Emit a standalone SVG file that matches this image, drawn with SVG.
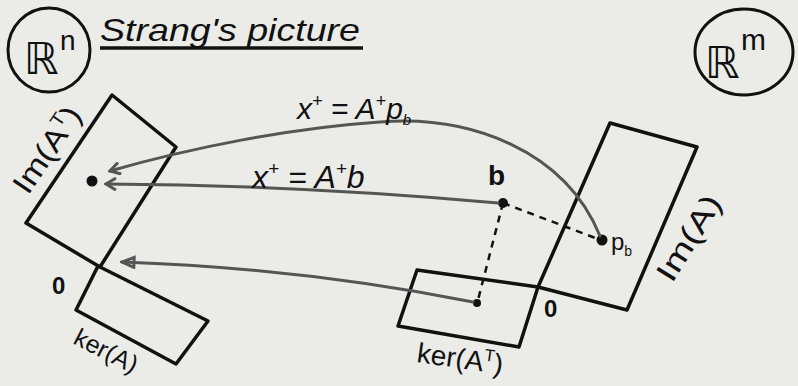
<svg xmlns="http://www.w3.org/2000/svg" width="798" height="386" viewBox="0 0 798 386">
<defs>
<style>
.bg{fill:#ebebe8}
.box{fill:none;stroke:#111;stroke-width:3.5;stroke-linejoin:round}
.ring{fill:none;stroke:#111;stroke-width:3}
.t{font-family:"Liberation Sans","DejaVu Sans",sans-serif;fill:#111}
.arr{fill:none;stroke:#555;stroke-width:3;stroke-linecap:round}
.dash{fill:none;stroke:#111;stroke-width:2.5;stroke-dasharray:7 6}
.dot{fill:#111}
</style>
<marker id="chev" viewBox="0 0 14 14" refX="12" refY="7" markerWidth="14" markerHeight="14" markerUnits="userSpaceOnUse" orient="auto">
<path d="M2,1 L12,7 L2,13" fill="none" stroke="#555" stroke-width="3"/>
</marker>
<marker id="tri" viewBox="0 0 16 14" refX="14" refY="7" markerWidth="16" markerHeight="14" markerUnits="userSpaceOnUse" orient="auto">
<path d="M2,2 L14,7 L2,12 Z" fill="none" stroke="#555" stroke-width="3"/>
</marker>
</defs>
<rect class="bg" x="0" y="0" width="798" height="386"/>

<g id="title">
<text class="t" x="100" y="41" font-size="32" font-style="italic" textLength="260" lengthAdjust="spacingAndGlyphs">Strang's picture</text>
<line x1="100" y1="48" x2="363" y2="48" stroke="#111" stroke-width="3.5"/>
</g>

<g id="Rn">
<ellipse class="ring" cx="49" cy="50" rx="41" ry="42"/>
<text class="t" x="24" y="74" font-size="44" font-family="DejaVu Sans">ℝ</text>
<text class="t" x="60" y="50" font-size="28">n</text>
</g>

<g id="Rm">
<ellipse class="ring" cx="744" cy="52" rx="49" ry="43"/>
<text class="t" x="705" y="78" font-size="44" font-family="DejaVu Sans">ℝ</text>
<text class="t" x="741" y="50" font-size="30">m</text>
</g>

<g id="imAT">
<polygon class="box" points="112,95 176,147 100,267 26,223"/>
<text class="t" font-size="30" transform="translate(28,196) rotate(-56)" textLength="98" lengthAdjust="spacingAndGlyphs">Im(A<tspan font-size="18" dy="-12">T</tspan><tspan dy="12">)</tspan></text>
</g>

<g id="kerA">
<polygon class="box" points="98,266 208,321 176,364 76,310"/>
<text class="t" font-size="25" transform="translate(72,343) rotate(27)">ker(A)</text>
</g>

<g id="origin-left">
<text class="t" x="52" y="294" font-size="24" font-weight="bold">0</text>
</g>

<g id="imA">
<polygon class="box" points="610,123 697,147 627,310 538,287"/>
<text class="t" font-size="30" transform="translate(672,284) rotate(-58)" textLength="96" lengthAdjust="spacingAndGlyphs">Im(A)</text>
</g>

<g id="kerAT">
<polygon class="box" points="417,270 538,287 519,347 398,326"/>
<text class="t" font-size="28" transform="translate(416,362) rotate(8)">ker(A<tspan font-size="17" dy="-11">T</tspan><tspan dy="11">)</tspan></text>
</g>

<g id="origin-right">
<text class="t" x="544" y="317" font-size="24" font-weight="bold">0</text>
</g>

<g id="b">
<circle class="dot" cx="503" cy="203" r="5"/>
<text class="t" x="488" y="185" font-size="28" font-weight="bold">b</text>
</g>

<g id="pb">
<circle class="dot" cx="602" cy="240" r="5.5"/>
<text class="t" x="611" y="250" font-size="24">p<tspan font-size="14" dy="6">b</tspan></text>
</g>

<g id="xplus">
<circle class="dot" cx="92" cy="181" r="5.5"/>
</g>

<g id="kerAT-point">
<circle class="dot" cx="477" cy="303" r="4"/>
</g>

<g id="connectors">
<path class="arr" d="M600,236 C 565,150 470,115 380,122 C 290,128 190,148 110,171" marker-end="url(#chev)"/>
<path class="arr" d="M498,203 Q 300,185 106,184" marker-end="url(#chev)"/>
<path class="arr" d="M473,302 Q 300,268 122,262" marker-end="url(#tri)"/>
<path class="dash" d="M503,203 L598,239"/>
<path class="dash" d="M503,203 L478,300"/>
</g>

<g id="labels">
<text class="t" x="297" y="119" font-size="30" font-style="italic">x<tspan font-size="18" dy="-12">+</tspan><tspan dy="12"> = A</tspan><tspan font-size="18" dy="-12">+</tspan><tspan dy="12">p</tspan><tspan font-size="15" dy="6">b</tspan></text>
<text class="t" x="252" y="188" font-size="32" font-style="italic">x<tspan font-size="19" dy="-13">+</tspan><tspan dy="13"> = A</tspan><tspan font-size="19" dy="-13">+</tspan><tspan dy="13">b</tspan></text>
</g>
</svg>
